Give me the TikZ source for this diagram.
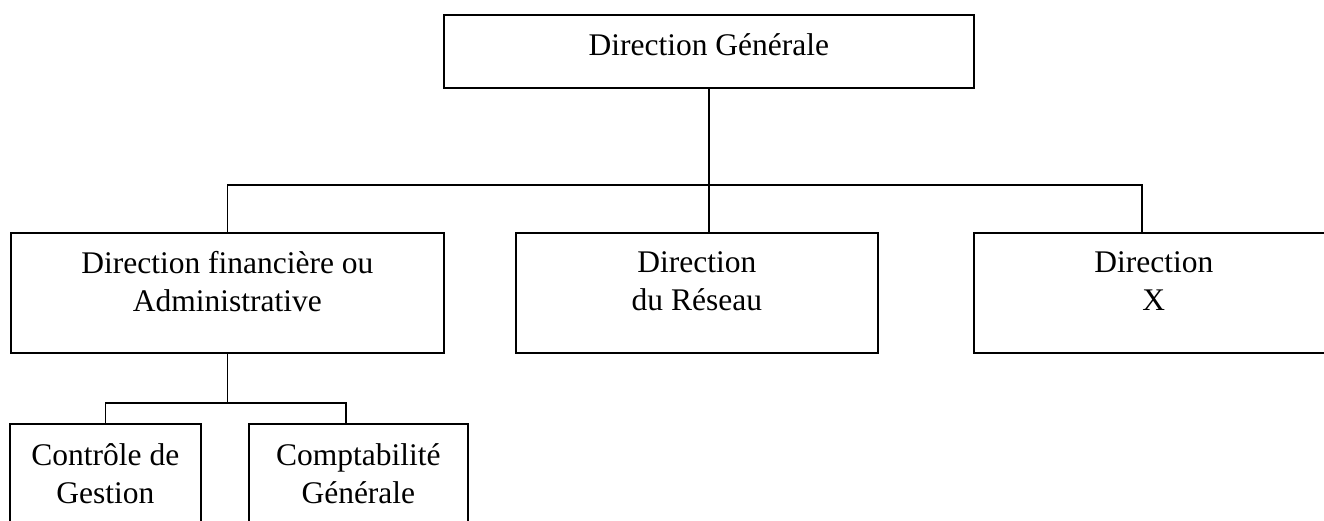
\documentclass[tikz,border=0pt]{standalone}
\usepackage{fontspec}
\setmainfont{Liberation Serif}
\usetikzlibrary{calc}
\begin{document}
\begin{tikzpicture}[x=1pt,y=-1pt,
  unit/.style={draw,line width=1.7pt,rectangle,inner sep=0pt,anchor=north west},
  lbl/.style={anchor=north,inner sep=0pt,align=center,yshift=-19.5pt,
    font=\fontsize{31.5}{38}\selectfont},
  link/.style={line width=1.6pt}]
\useasboundingbox (0,0) rectangle (1324,520);
\clip (0,0) rectangle (1324,520);
\fill[white] (0,0) rectangle (1324,520);

% first level
\node[unit,minimum width=530pt,minimum height=73pt] (dg) at (443,14) {};
\node[lbl] (dgT) at (dg.north) {Direction Générale};

% second level
\node[unit,minimum width=433pt,minimum height=120pt] (daf) at (10,232) {};
\node[lbl] (dafT) at (daf.north) {Direction financière ou\\Administrative};
\node[unit,minimum width=362pt,minimum height=120pt] (dr) at (515,232) {};
\node[lbl] (drT) at (dr.north) {Direction\\du Réseau};
\node[unit,minimum width=360pt,minimum height=120pt] (dx) at (973,232) {};
\node[lbl] (dxT) at (dx.north) {Direction\\X};

% third level
\node[unit,minimum width=191pt,minimum height=130pt] (cg) at (9,423) {};
\node[lbl,yshift=-1pt] (cgT) at (cg.north) {Contrôle de\\Gestion};
\node[unit,minimum width=219pt,minimum height=130pt] (cpt) at (248,423) {};
\node[lbl,yshift=-1pt] (cptT) at (cpt.north) {Comptabilité\\Générale};

% connectors of the first level
\coordinate (bus) at ($(dg.south)+(0,96)$);
\coordinate (dxIn) at ([xshift=-12pt]dx.north);
\draw[link] (dg.south) -- (dg.south |- dr.north);
\draw[link] (daf.north) |- (bus) -| (dxIn);

% connectors of the finance branch
\coordinate (sub) at ($(daf.south)+(0,49)$);
\coordinate (cptIn) at ([xshift=-12.5pt]cpt.north);
\draw[link] (daf.south) -- (sub);
\draw[link] (cg.north) |- (sub) -| (cptIn);
\end{tikzpicture}
\end{document}
